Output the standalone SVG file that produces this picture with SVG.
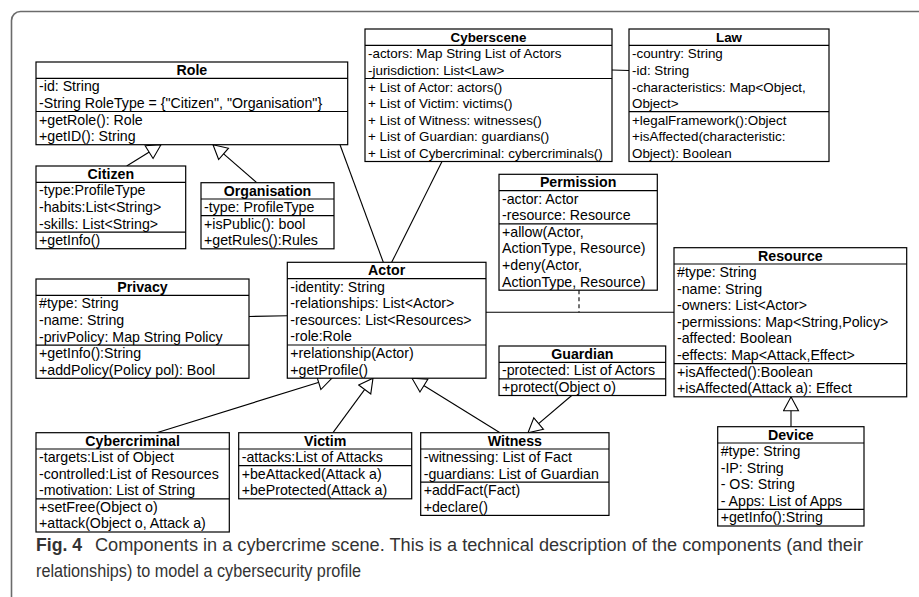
<svg xmlns="http://www.w3.org/2000/svg" width="919" height="597" viewBox="0 0 919 597">
<style>
.bx{fill:#fff;stroke:#000;stroke-width:1.2}
.sp{stroke:#000;stroke-width:1.2}
.t{font-family:"Liberation Sans",Arial,Helvetica,sans-serif;font-size:14.2px;fill:#000}
.s{font-size:13.4px}
.h{font-weight:bold;text-anchor:middle}
.cn{stroke:#000;stroke-width:1.1;fill:none}
.gen{marker-end:url(#gen)}
.cap{font-family:"Liberation Sans",Arial,sans-serif;font-size:17.5px;fill:#333}
</style>
<defs>
<marker id="gen" markerUnits="userSpaceOnUse" markerWidth="18" markerHeight="20" refX="15" refY="8.5" orient="auto">
<path d="M1,1 L15,8.5 L1,16 z" fill="#fff" stroke="#000" stroke-width="1.1"/>
</marker>
</defs>
<rect x="11.5" y="11.5" width="940" height="620" rx="9" fill="#fff" stroke="#6b6b6b" stroke-width="1.6"/>

<g id="connectors">
<path class="cn" d="M340,144.7 L383.3,262.3"/>
<path class="cn" d="M442,161.5 L391.7,262.3"/>
<path class="cn" d="M612,70 L629,70.5"/>
<path class="cn" d="M249,316.5 L287.3,315.7"/>
<path class="cn" d="M486,312.3 L674,312.3"/>
<path class="cn" d="M579,290.2 L579,312.3" stroke-dasharray="4,3"/>
<path class="cn gen" d="M126.7,166 L161,144.7"/>
<path class="cn gen" d="M256.7,182.7 L213,144.7"/>
<path class="cn gen" d="M156.7,432.7 L332,378.2"/>
<path class="cn gen" d="M333,432.7 L373,378.2"/>
<path class="cn gen" d="M500,432.7 L412,378.2"/>
<path class="cn gen" d="M571.7,395.5 L528,432.7"/>
<path class="cn gen" d="M791,426.7 L791,396.8"/>
</g>

<g id="role">
<rect class="bx" x="36" y="62" width="311.7" height="82.7"/>
<line class="sp" x1="36" y1="78.3" x2="347.7" y2="78.3"/>
<line class="sp" x1="36" y1="111.5" x2="347.7" y2="111.5"/>
<text class="t h" x="191.85" y="75">Role</text>
<text class="t" x="39" y="91.3">-id: String</text>
<text class="t" x="39" y="107.9">-String RoleType = {"Citizen", "Organisation"}</text>
<text class="t" x="39" y="124.5">+getRole(): Role</text>
<text class="t" x="39" y="141.1">+getID(): String</text>
</g>

<g id="cyberscene">
<rect class="bx" x="365" y="29" width="247" height="132.5"/>
<line class="sp" x1="365" y1="45.3" x2="612" y2="45.3"/>
<line class="sp" x1="365" y1="78.5" x2="612" y2="78.5"/>
<text class="t s h" x="488.5" y="42">Cyberscene</text>
<text class="t s" x="368" y="58.3">-actors: Map String List of Actors</text>
<text class="t s" x="368" y="74.9">-jurisdiction: List&lt;Law&gt;</text>
<text class="t s" x="368" y="91.5">+ List of Actor: actors()</text>
<text class="t s" x="368" y="108.1">+ List of Victim: victims()</text>
<text class="t s" x="368" y="124.7">+ List of Witness: witnesses()</text>
<text class="t s" x="368" y="141.3">+ List of Guardian: guardians()</text>
<text class="t s" x="368" y="157.9">+ List of Cybercriminal: cybercriminals()</text>
</g>

<g id="law">
<rect class="bx" x="629" y="29" width="200" height="132.5"/>
<line class="sp" x1="629" y1="45.3" x2="829" y2="45.3"/>
<line class="sp" x1="629" y1="111.7" x2="829" y2="111.7"/>
<text class="t s h" x="729" y="42">Law</text>
<text class="t s" x="632" y="58.3">-country: String</text>
<text class="t s" x="632" y="74.9">-id: String</text>
<text class="t s" x="632" y="91.5">-characteristics: Map&lt;Object,</text>
<text class="t s" x="632" y="108.1">Object&gt;</text>
<text class="t s" x="632" y="124.7">+legalFramework():Object</text>
<text class="t s" x="632" y="141.3">+isAffected(characteristic:</text>
<text class="t s" x="632" y="157.9">Object): Boolean</text>
</g>

<g id="citizen">
<rect class="bx" x="36" y="166" width="149.7" height="82.7"/>
<line class="sp" x1="36" y1="182.3" x2="185.7" y2="182.3"/>
<line class="sp" x1="36" y1="232.1" x2="185.7" y2="232.1"/>
<text class="t h" x="110.85" y="179">Citizen</text>
<text class="t" x="39" y="195.3">-type:ProfileType</text>
<text class="t" x="39" y="211.9">-habits:List&lt;String&gt;</text>
<text class="t" x="39" y="228.5">-skills: List&lt;String&gt;</text>
<text class="t" x="39" y="245.1">+getInfo()</text>
</g>

<g id="organisation">
<rect class="bx" x="201" y="182.7" width="133" height="66.1"/>
<line class="sp" x1="201" y1="199" x2="334" y2="199"/>
<line class="sp" x1="201" y1="215.6" x2="334" y2="215.6"/>
<text class="t h" x="267.5" y="195.7">Organisation</text>
<text class="t" x="204" y="212">-type: ProfileType</text>
<text class="t" x="204" y="228.6">+isPublic(): bool</text>
<text class="t" x="204" y="245.2">+getRules():Rules</text>
</g>

<g id="permission">
<rect class="bx" x="499" y="174.3" width="158.3" height="115.9"/>
<line class="sp" x1="499" y1="190.6" x2="657.3" y2="190.6"/>
<line class="sp" x1="499" y1="223.8" x2="657.3" y2="223.8"/>
<text class="t h" x="578.15" y="187.3">Permission</text>
<text class="t" x="502" y="203.6">-actor: Actor</text>
<text class="t" x="502" y="220.2">-resource: Resource</text>
<text class="t" x="502" y="236.8">+allow(Actor,</text>
<text class="t" x="502" y="253.4">ActionType, Resource)</text>
<text class="t" x="502" y="270">+deny(Actor,</text>
<text class="t" x="502" y="286.6">ActionType, Resource)</text>
</g>

<g id="actor">
<rect class="bx" x="287.3" y="262.3" width="198.7" height="115.9"/>
<line class="sp" x1="287.3" y1="278.6" x2="486" y2="278.6"/>
<line class="sp" x1="287.3" y1="345" x2="486" y2="345"/>
<text class="t h" x="386.65" y="275.3">Actor</text>
<text class="t" x="290.3" y="291.6">-identity: String</text>
<text class="t" x="290.3" y="308.2">-relationships: List&lt;Actor&gt;</text>
<text class="t" x="290.3" y="324.8">-resources: List&lt;Resources&gt;</text>
<text class="t" x="290.3" y="341.4">-role:Role</text>
<text class="t" x="290.3" y="358">+relationship(Actor)</text>
<text class="t" x="290.3" y="374.6">+getProfile()</text>
</g>

<g id="privacy">
<rect class="bx" x="36" y="279" width="213" height="99.3"/>
<line class="sp" x1="36" y1="295.3" x2="249" y2="295.3"/>
<line class="sp" x1="36" y1="345.1" x2="249" y2="345.1"/>
<text class="t h" x="142.5" y="292">Privacy</text>
<text class="t" x="39" y="308.3">#type: String</text>
<text class="t" x="39" y="324.9">-name: String</text>
<text class="t" x="39" y="341.5">-privPolicy: Map String Policy</text>
<text class="t" x="39" y="358.1">+getInfo():String</text>
<text class="t" x="39" y="374.7">+addPolicy(Policy pol): Bool</text>
</g>

<g id="resource">
<rect class="bx" x="674" y="247.7" width="232.7" height="149.1"/>
<line class="sp" x1="674" y1="264" x2="906.7" y2="264"/>
<line class="sp" x1="674" y1="363.6" x2="906.7" y2="363.6"/>
<text class="t h" x="790.35" y="260.7">Resource</text>
<text class="t" x="677" y="277">#type: String</text>
<text class="t" x="677" y="293.6">-name: String</text>
<text class="t" x="677" y="310.2">-owners: List&lt;Actor&gt;</text>
<text class="t" x="677" y="326.8">-permissions: Map&lt;String,Policy&gt;</text>
<text class="t" x="677" y="343.4">-affected: Boolean</text>
<text class="t" x="677" y="360">-effects: Map&lt;Attack,Effect&gt;</text>
<text class="t" x="677" y="376.6">+isAffected():Boolean</text>
<text class="t" x="677" y="393.2">+isAffected(Attack a): Effect</text>
</g>

<g id="guardian">
<rect class="bx" x="499" y="346" width="166.7" height="49.5"/>
<line class="sp" x1="499" y1="362.3" x2="665.7" y2="362.3"/>
<line class="sp" x1="499" y1="378.9" x2="665.7" y2="378.9"/>
<text class="t h" x="582.35" y="359">Guardian</text>
<text class="t" x="502" y="375.3">-protected: List of Actors</text>
<text class="t" x="502" y="391.9">+protect(Object o)</text>
</g>

<g id="cybercriminal">
<rect class="bx" x="36" y="432.7" width="193.3" height="99.3"/>
<line class="sp" x1="36" y1="449" x2="229.3" y2="449"/>
<line class="sp" x1="36" y1="498.8" x2="229.3" y2="498.8"/>
<text class="t h" x="132.65" y="445.7">Cybercriminal</text>
<text class="t" x="39" y="462">-targets:List of Object</text>
<text class="t" x="39" y="478.6">-controlled:List of Resources</text>
<text class="t" x="39" y="495.2">-motivation: List of String</text>
<text class="t" x="39" y="511.8">+setFree(Object o)</text>
<text class="t" x="39" y="528.4">+attack(Object o, Attack a)</text>
</g>

<g id="victim">
<rect class="bx" x="238.7" y="432.7" width="173" height="66.1"/>
<line class="sp" x1="238.7" y1="449" x2="411.7" y2="449"/>
<line class="sp" x1="238.7" y1="465.6" x2="411.7" y2="465.6"/>
<text class="t h" x="325.2" y="445.7">Victim</text>
<text class="t" x="241.7" y="462">-attacks:List of Attacks</text>
<text class="t" x="241.7" y="478.6">+beAttacked(Attack a)</text>
<text class="t" x="241.7" y="495.2">+beProtected(Attack a)</text>
</g>

<g id="witness">
<rect class="bx" x="420.7" y="432.7" width="188.3" height="82.7"/>
<line class="sp" x1="420.7" y1="449" x2="609" y2="449"/>
<line class="sp" x1="420.7" y1="482.2" x2="609" y2="482.2"/>
<text class="t h" x="514.85" y="445.7">Witness</text>
<text class="t" x="423.7" y="462">-witnessing: List of Fact</text>
<text class="t" x="423.7" y="478.6">-guardians: List of Guardian</text>
<text class="t" x="423.7" y="495.2">+addFact(Fact)</text>
<text class="t" x="423.7" y="511.8">+declare()</text>
</g>

<g id="device">
<rect class="bx" x="717.7" y="426.7" width="146.3" height="99.3"/>
<line class="sp" x1="717.7" y1="443" x2="864" y2="443"/>
<line class="sp" x1="717.7" y1="509.4" x2="864" y2="509.4"/>
<text class="t h" x="790.85" y="439.7">Device</text>
<text class="t" x="720.7" y="456">#type: String</text>
<text class="t" x="720.7" y="472.6">-IP: String</text>
<text class="t" x="720.7" y="489.2">- OS: String</text>
<text class="t" x="720.7" y="505.8">- Apps: List of Apps</text>
<text class="t" x="720.7" y="522.4">+getInfo():String</text>
</g>

<g id="caption">
<text class="cap" x="36" y="550.5" font-weight="bold" fill="#111" textLength="46" lengthAdjust="spacingAndGlyphs">Fig. 4</text>
<text class="cap" x="95" y="550.5" textLength="768" lengthAdjust="spacingAndGlyphs">Components in a cybercrime scene. This is a technical description of the components (and their</text>
<text class="cap" x="36" y="577" textLength="325" lengthAdjust="spacingAndGlyphs">relationships) to model a cybersecurity profile</text>
</g>
</svg>
